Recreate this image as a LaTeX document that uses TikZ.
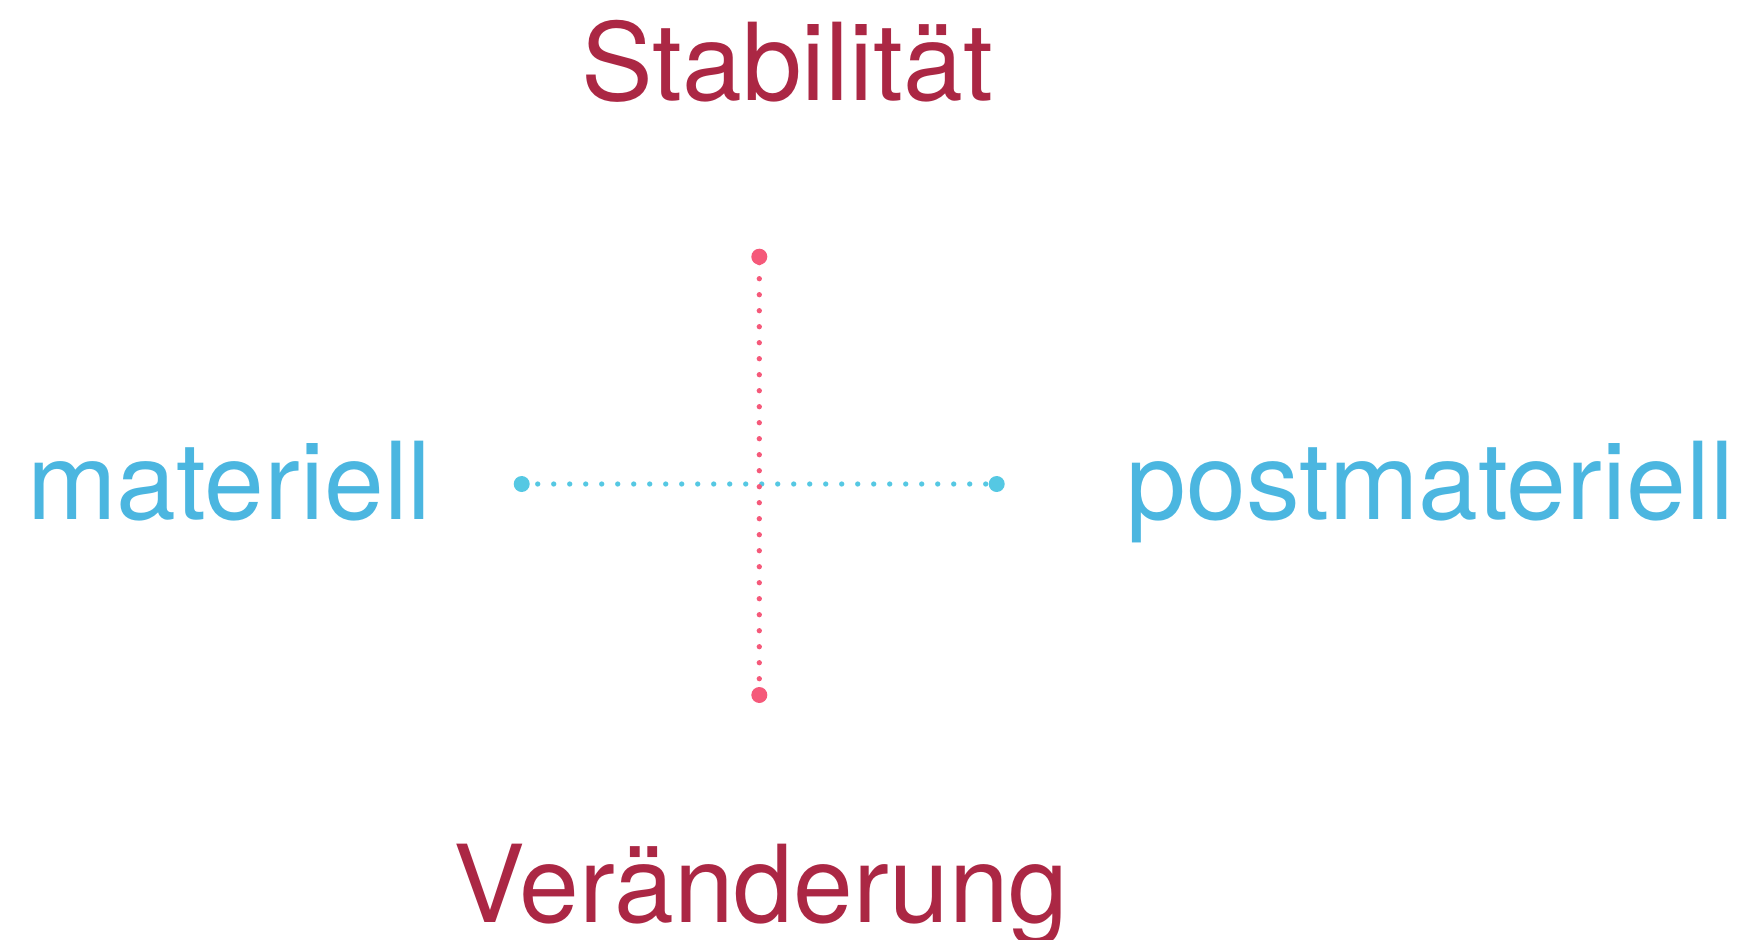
\documentclass[tikz,border=0pt]{standalone}
\usepackage{fontspec}
\setmainfont{TeX Gyre Heros}
\definecolor{axisred}{HTML}{F5597A}
\definecolor{axisblue}{HTML}{55C8E3}
\definecolor{labelred}{HTML}{AB2744}
\definecolor{labelblue}{HTML}{4BB6E0}
\tikzset{
  label text/.style={inner sep=0pt, font=\fontsize{107.5bp}{120bp}\selectfont},
  redlabel/.style={label text, text=labelred},
  bluelabel/.style={label text, text=labelblue},
  enddot/.style={circle, inner sep=0pt, minimum size=16bp},
  dotline/.style={line width=5.3bp, line cap=round, dash pattern=on 0bp off 16bp},
}
\begin{document}
\begin{tikzpicture}[x=1bp, y=-1bp]
  \useasboundingbox (0,0) rectangle (1742,939);

  % axis end points
  \coordinate (left)  at (521.7,484);
  \coordinate (right) at (996.7,484);
  \coordinate (top)   at (759.3,256.7);
  \coordinate (bottom) at (759.3,695);

  % dotted axes
  \draw[dotline, axisblue] (left) -- (right);
  \draw[dotline, axisred, dash phase=10bp] (top) -- (bottom);

  % end dots
  \node[enddot, fill=axisblue] (leftdot)  at (left) {};
  \node[enddot, fill=axisblue] (rightdot) at (right) {};
  \node[enddot, fill=axisred]  (topdot)   at (top) {};
  \node[enddot, fill=axisred]  (bottomdot) at (bottom) {};

  % pole labels
  \node[redlabel, anchor=base]  (stab) at (787,100) {Stabilität};
  \node[redlabel, anchor=base]  (ver)  at (761,922) {Veränderung};
  \node[bluelabel, anchor=base west] (mat)  at (27,519) {materiell};
  \node[bluelabel, anchor=base east] (post) at (1734,519) {postmateriell};
\end{tikzpicture}
\end{document}
